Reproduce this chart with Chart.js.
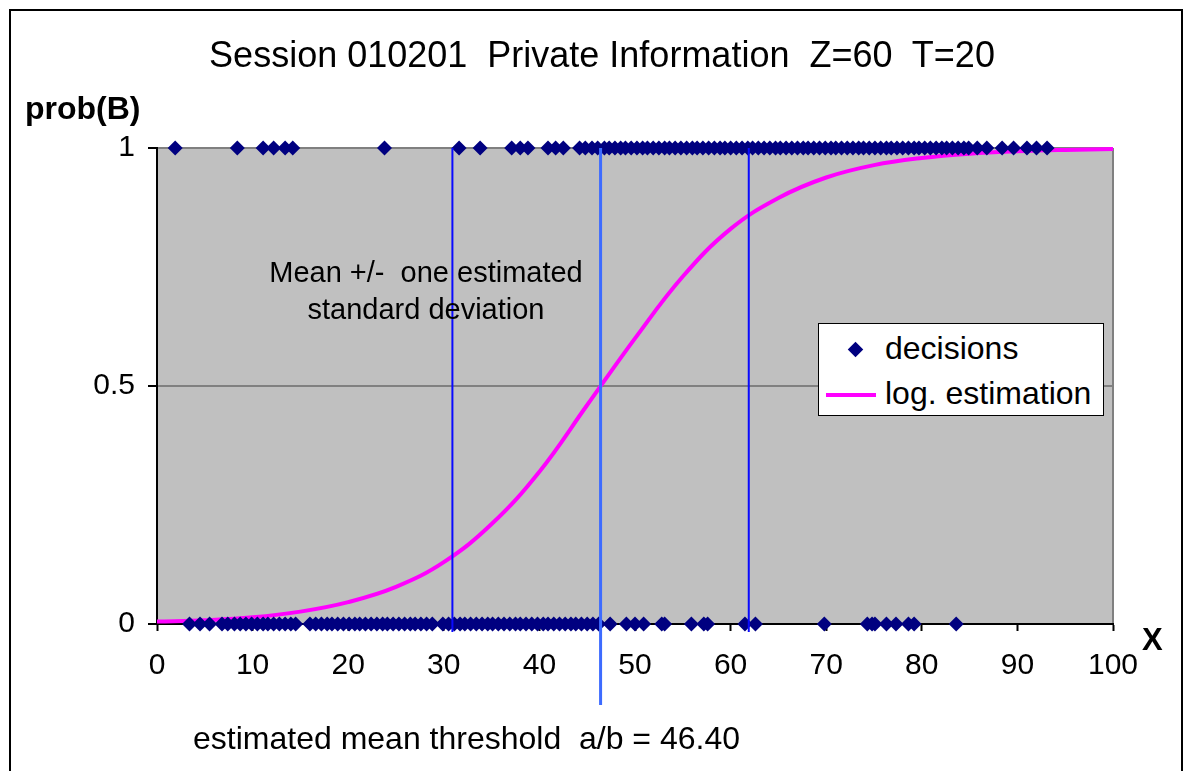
<!DOCTYPE html>
<html>
<head>
<meta charset="utf-8">
<script src="https://cdn.jsdelivr.net/npm/chart.js@4.4.0/dist/chart.umd.min.js"></script>
<style>
    html, body { margin: 0; padding: 0; background: #fff; }
    body { width: 1189px; height: 771px; position: relative; overflow: hidden; font-family: "Liberation Sans", Arial, sans-serif; }
    #frame { position: absolute; left: 9px; top: 9px; width: 1170px; height: 800px; border: 2px solid #000; }
    #wrap { position: absolute; left: 0; top: 0; width: 1189px; height: 771px; }
    .lbl { position: absolute; color: #000; white-space: pre; line-height: 1.15; }
    #legend { position: absolute; left: 818px; top: 323px; width: 284px; height: 91px; background: #fff; border: 1px solid #000; }
</style>
</head>
<body>
<div id="frame"></div>
<div id="wrap"><canvas id="chart" width="1189" height="771"></canvas></div>

<div class="lbl" style="left:0;width:1204px;top:34px;text-align:center;font-size:36px;">Session 010201  Private Information  Z=60  T=20</div>
<div class="lbl" style="left:25px;top:90px;font-size:32px;font-weight:bold;">prob(B)</div>
<div class="lbl" style="left:1142px;top:622px;font-size:31px;font-weight:bold;">X</div>
<div class="lbl" style="left:176px;width:500px;top:254px;text-align:center;font-size:29px;line-height:37px;">Mean +/-  one estimated
standard deviation</div>
<div class="lbl" style="left:193px;top:720px;font-size:32px;">estimated mean threshold  a/b = 46.40</div>

<div id="legend">
    <div class="lbl" style="left:31px;top:20px;width:11px;height:11px;background:#000080;transform:rotate(45deg);"></div>
    <div class="lbl" style="left:66px;top:6px;font-size:32px;">decisions</div>
    <div class="lbl" style="left:7px;top:69px;width:50px;height:4px;background:#ff00ff;"></div>
    <div class="lbl" style="left:66px;top:51px;font-size:32px;">log. estimation</div>
</div>

<script>
// decisions with B chosen (prob = 1)
const decisionsB = [1.9, 8.4, 11.1, 12.2, 13.4, 14.2, 23.8, 31.6, 33.8, 37.1, 38.0, 38.8, 40.9, 41.7, 42.5,
    44.2, 44.8, 45.5, 46.1, 46.8, 47.3, 47.9, 48.5, 49.0, 49.6, 50.2, 50.8, 51.3, 51.9, 52.5, 53.1, 53.6,
    54.2, 54.8, 55.4, 56.0, 56.5, 57.1, 57.7, 58.3, 58.9, 59.4, 60.0, 60.6, 61.2, 61.8, 62.3, 62.9, 63.5,
    64.1, 64.7, 65.2, 65.8, 66.4, 67.0, 67.6, 68.1, 68.7, 69.3, 69.9, 70.5, 71.0, 71.6, 72.2, 72.8, 73.4,
    73.9, 74.5, 75.1, 75.7, 76.3, 76.8, 77.4, 78.0, 78.6, 79.2, 79.7, 80.3, 80.9, 81.5, 82.1, 82.6, 83.2,
    83.8, 84.4, 84.9, 85.8, 86.8, 88.4, 89.6, 91.0, 92.0, 93.1];
// decisions with A chosen (prob = 0)
const decisionsA = [3.4, 4.5, 5.5, 6.8, 7.4, 8.1, 8.7, 9.3, 9.9, 10.5, 11.1, 11.6, 12.2, 12.8, 13.4, 14.0,
    14.5, 16.0, 16.6, 17.2, 17.8, 18.3, 18.9, 19.5, 20.1, 20.7, 21.2, 21.8, 22.4, 23.0, 23.6, 24.1, 24.7,
    25.3, 25.9, 26.5, 27.0, 27.6, 28.2, 28.8, 29.9, 30.5, 31.1, 31.7, 32.2, 32.8, 33.4, 34.0, 34.6, 35.1,
    35.7, 36.3, 36.9, 37.5, 38.0, 38.6, 39.2, 39.8, 40.4, 40.9, 41.5, 42.1, 42.7, 43.3, 43.8, 44.4, 45.0,
    45.6, 46.2, 47.4, 49.1, 50.0, 50.9, 52.8, 53.1, 55.9, 57.2, 57.6, 61.5, 62.6, 69.8, 74.3, 74.8, 75.1,
    76.3, 77.3, 78.6, 79.2, 83.6];

// log. estimation curve
const curveX = [0, 5, 10, 15, 20, 25, 30, 35, 40, 45, 50, 55, 60, 65, 70, 75, 80, 85, 90, 95, 100];
const curveY = [0.005, 0.008, 0.014, 0.026, 0.046, 0.078, 0.13, 0.21, 0.32, 0.46, 0.6, 0.73, 0.83, 0.895,
    0.938, 0.964, 0.979, 0.988, 0.993, 0.996, 0.998];

const meanX = 46.4;
const sdLow = 30.9;
const sdHigh = 61.9;
const xTicks = [0, 10, 20, 30, 40, 50, 60, 70, 80, 90, 100];

const plotBg = {
    id: 'plotBg',
    beforeDraw(chart) {
        const { ctx, chartArea: a } = chart;
        ctx.save();
        ctx.fillStyle = '#c0c0c0';
        ctx.fillRect(a.left, a.top, a.right - a.left, a.bottom - a.top);
        ctx.strokeStyle = '#808080';
        ctx.lineWidth = 2;
        ctx.beginPath();
        ctx.moveTo(a.right, a.top);
        ctx.lineTo(a.right, a.bottom);
        ctx.stroke();
        ctx.restore();
    }
};

const ctx = document.getElementById('chart');
new Chart(ctx, {
    type: 'scatter',
    data: {
        datasets: [
            {
                label: 'mean',
                data: [{ x: meanX, y: 1 }, { x: meanX, y: -0.17 }],
                showLine: true,
                borderColor: '#3d6bff',
                borderWidth: 3,
                pointRadius: 0,
                clip: false,
                order: 0,
            },
            {
                label: 'sd low',
                data: [{ x: sdLow, y: 1 }, { x: sdLow, y: -0.017 }],
                showLine: true,
                borderColor: '#0a0aff',
                borderWidth: 2,
                pointRadius: 0,
                clip: false,
                order: 0,
            },
            {
                label: 'sd high',
                data: [{ x: sdHigh, y: 1 }, { x: sdHigh, y: -0.017 }],
                showLine: true,
                borderColor: '#0a0aff',
                borderWidth: 2,
                pointRadius: 0,
                clip: false,
                order: 0,
            },
            {
                label: 'decisions',
                data: decisionsB.map(x => ({ x, y: 1 })).concat(decisionsA.map(x => ({ x, y: 0 }))),
                pointStyle: 'rectRot',
                pointRadius: 7.5,
                backgroundColor: '#000080',
                borderColor: '#000080',
                borderWidth: 0,
                clip: false,
                order: 1,
            },
            {
                label: 'log. estimation',
                data: curveX.map((x, i) => ({ x, y: curveY[i] })),
                showLine: true,
                borderColor: '#ff00ff',
                borderWidth: 4,
                pointRadius: 0,
                tension: 0.4,
                clip: false,
                order: 2,
            },
        ],
    },
    options: {
        responsive: false,
        animation: false,
        layout: { padding: { left: 0, top: 148, right: 76, bottom: 0 } },
        plugins: {
            legend: { display: false },
            tooltip: { enabled: false },
        },
        scales: {
            x: {
                type: 'linear',
                min: 0,
                max: 100,
                afterBuildTicks: s => { s.ticks = xTicks.map(v => ({ value: v })); },
                afterFit: s => { s.height = 147; },
                ticks: {
                    color: '#000',
                    font: { family: '"Liberation Sans", Arial', size: 30 },
                    padding: 17,
                    maxRotation: 0,
                },
                grid: { drawOnChartArea: false, drawTicks: true, tickLength: 7, tickColor: '#000', tickWidth: 2 },
                border: { color: '#000', width: 2 },
            },
            y: {
                min: 0,
                max: 1,
                afterFit: s => { s.width = 157; },
                ticks: {
                    stepSize: 0.5,
                    color: '#000',
                    padding: 13,
                    font: { family: '"Liberation Sans", Arial', size: 30 },
                    callback: v => String(v),
                },
                grid: {
                    color: c => (c.tick && c.tick.value === 0 ? 'rgba(0,0,0,0)' : '#808080'),
                    lineWidth: 2,
                    tickLength: 9,
                    tickColor: '#000',
                    tickWidth: 2,
                },
                border: { color: '#000', width: 2 },
            },
        },
    },
    plugins: [plotBg],
});
</script>
</body>
</html>
